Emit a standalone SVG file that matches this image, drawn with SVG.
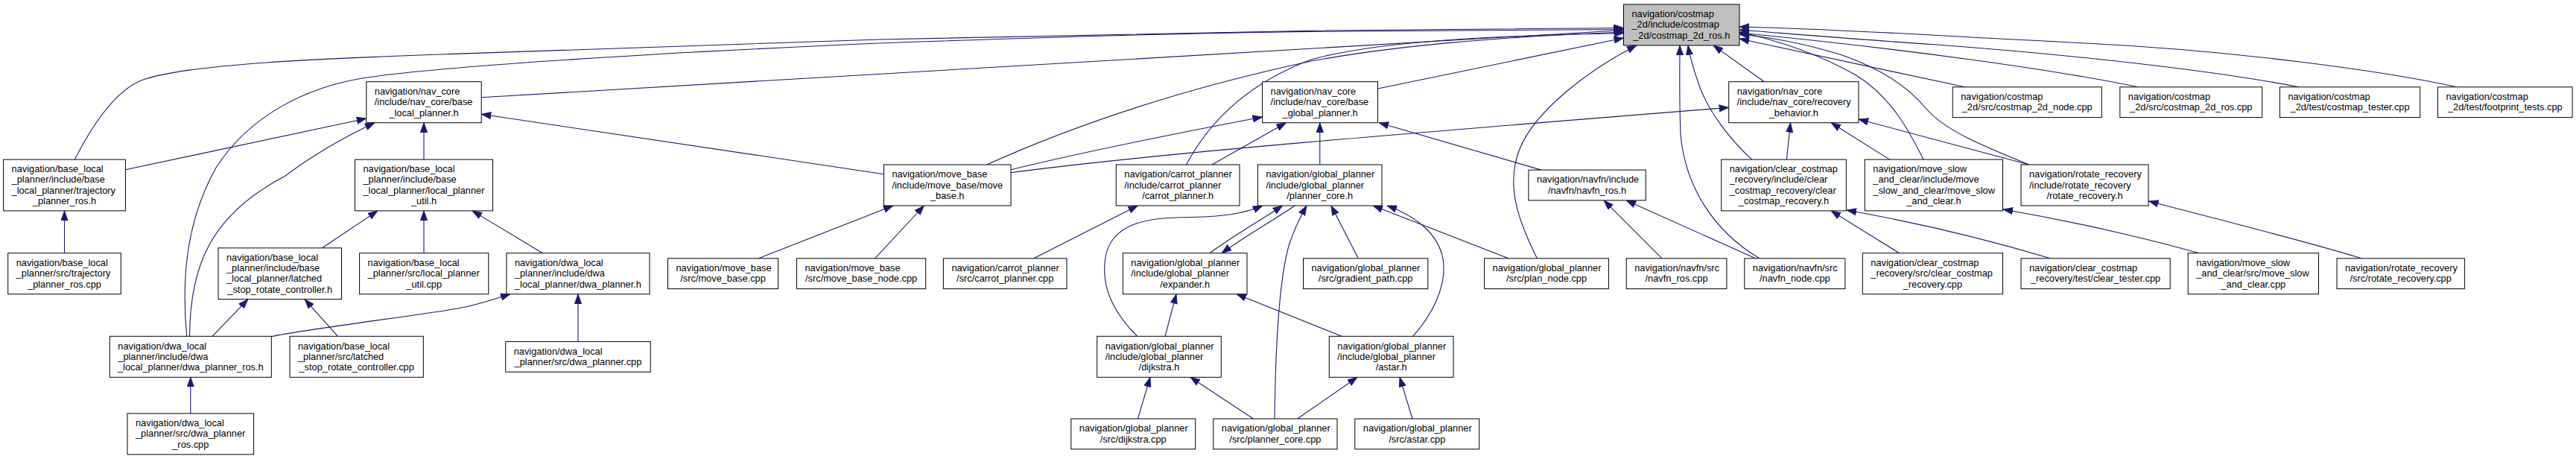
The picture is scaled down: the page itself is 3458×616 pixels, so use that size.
<svg xmlns="http://www.w3.org/2000/svg" width="3458" height="616" viewBox="0 0 3458 616">
<defs>
<style>
.n rect{fill:#fff;stroke:#000;stroke-width:1}
.root rect{fill:#bfbfbf}
text{font-family:"Liberation Sans",Arial,Helvetica,sans-serif;font-size:12.8px;fill:#000}
.m{text-anchor:middle}
#edges path{fill:none;stroke:#191970;stroke-width:1.1;marker-end:url(#ah)}
</style>
<marker id="ah" markerUnits="userSpaceOnUse" markerWidth="14" markerHeight="10" refX="13" refY="5" orient="auto" viewBox="0 0 14 10"><path d="M0,0.3 L13,5 L0,9.7 z" fill="#191970" stroke="#191970" stroke-width="0.8"/></marker>
</defs>
<rect width="3458" height="616" fill="#fff"/>
<g id="edges">
<path d="M100.3,214.1 C128,160 160,117 195,106 C260,86 420,79 600,72.7 C800,66 1000,58 1180,53 C1400,47 1600,43 1760,41.2 C1950,39 2100,38 2179.5,37.5"/>
<path d="M250.7,451.3 C244,380 248,300 290,225 C335,155 410,118 486,105 C600,88 900,70 1180,58 C1400,50 1600,44 1760,42.4 C1950,40.5 2100,40 2179.5,39.5"/>
<path d="M254.5,451.3 C255,360 280,290 383,236 C420,208 460,185 503,164.7"/>
<path d="M168.4,227.8 L491.8,159"/>
<path d="M86.5,339.7 L86.5,282.9"/>
<path d="M569,214.1 L569,164.7"/>
<path d="M569,339.7 L569,282.9"/>
<path d="M432.5,332.8 L507,282.9"/>
<path d="M285,451.3 L333,401.6"/>
<path d="M453.5,451.3 L409,401.6"/>
<path d="M255.8,554.9 L255.8,506.3"/>
<path d="M364.3,451.7 C420,440 560,424 620,413 C645,408 665,401 685,394.7"/>
<path d="M728.5,339.7 L634,282.9"/>
<path d="M776,458.4 L776,394.7"/>
<path d="M646.2,130.8 L2179.5,40.5"/>
<path d="M1186.4,233.7 L646.2,153.2"/>
<path d="M1357,227.8 C1450,205 1600,175 1694.6,157"/>
<path d="M1357,231.7 C1550,206 1900,178 2320.7,144.3"/>
<path d="M1018.2,346.8 L1199,276"/>
<path d="M1174.5,346.8 L1240.4,276"/>
<path d="M1387.7,346.8 L1527.4,276"/>
<path d="M1627,221 L1726.4,164.7"/>
<path d="M1324.6,221 C1420,178 1560,125 1760,82 C1870,62 2000,50 2179.5,43"/>
<path d="M1592.5,221 C1625,160 1680,110 1760,80 C1850,55 2000,48 2179.5,44.5"/>
<path d="M1771.8,221 L1771.8,164.7"/>
<path d="M1624,339.7 C1650,320 1690,297 1721.7,276"/>
<path d="M1738.3,276 C1710,295 1670,318 1640,339.7"/>
<path d="M1526.7,451.3 C1490,415 1478,380 1484,345 C1492,300 1540,292 1590,291.7 C1640,291 1670,287 1695,276"/>
<path d="M1564,451.3 L1579,394.7"/>
<path d="M1527.4,562 L1544,506.3"/>
<path d="M1682.4,562 L1598,506.3"/>
<path d="M1711,562 C1712,480 1716,380 1730,330 C1738,305 1746,290 1754,276"/>
<path d="M1741.7,562 L1822,506.3"/>
<path d="M1801,451.3 L1660,394.7"/>
<path d="M1896.7,451.3 C1920,425 1940,390 1938,355 C1935,315 1900,290 1862,276"/>
<path d="M1896,562 L1879,506.3"/>
<path d="M1823.3,346.8 L1787,276"/>
<path d="M2025,346.8 L1843,276"/>
<path d="M2063.4,346.8 C2040,300 2020,250 2040,200 C2060,150 2130,95 2197,60.9"/>
<path d="M1849.5,119 L2179.5,51"/>
<path d="M2069,228.1 L1851,164.7"/>
<path d="M2231,346.8 L2153,268.9"/>
<path d="M2356.7,346.8 L2183,268.9"/>
<path d="M2362,346.8 C2300,310 2262,250 2256,180 C2254,130 2255,90 2255,60.9"/>
<path d="M2351.7,214.1 C2320,185 2295,150 2283,120 C2275,98 2269,80 2266,60.9"/>
<path d="M2368.3,109.7 L2300,60.9"/>
<path d="M2398.3,214.1 L2403.5,164.7"/>
<path d="M2536.7,214.1 L2458,164.7"/>
<path d="M2723.7,221 L2495,160"/>
<path d="M2582,214.1 C2565,180 2540,130 2490,100 C2440,72 2390,55 2335,43"/>
<path d="M2723.7,221 C2660,195 2610,175 2585,145 C2560,115 2520,90 2470,73 C2420,58 2380,50 2335,46"/>
<path d="M2637.6,116.8 L2335,52"/>
<path d="M2870,116.8 C2750,92 2550,65 2335,44"/>
<path d="M3085.7,116.8 C2980,96 2800,75 2600,60 C2480,52 2400,45 2335,40"/>
<path d="M3298,116.8 C3200,95 3000,68 2800,58 C2600,48 2450,38 2335,36"/>
<path d="M2549.6,339.7 L2458,282.9"/>
<path d="M2752.5,346.8 C2680,325 2580,300 2479,282"/>
<path d="M2951.8,339.7 C2900,325 2800,300 2689,281"/>
<path d="M3169.9,346.8 C3100,325 2980,295 2884.5,270"/>
</g>
<g id="n0" class="n root"><rect x="2179.5" y="5.9" width="155.5" height="55"/><text x="2190.5" y="23.1">navigation/costmap</text><text x="2190.5" y="37.4">_2d/include/costmap</text><text class="m" x="2257.25" y="51.7">_2d/costmap_2d_ros.h</text></g>
<g id="n1" class="n"><rect x="491.8" y="109.7" width="154.4" height="55"/><text x="502.8" y="126.9">navigation/nav_core</text><text x="502.8" y="141.2">/include/nav_core/base</text><text class="m" x="569" y="155.5">_local_planner.h</text></g>
<g id="n2" class="n"><rect x="1694.6" y="109.7" width="154.9" height="55"/><text x="1705.6" y="126.9">navigation/nav_core</text><text x="1705.6" y="141.2">/include/nav_core/base</text><text class="m" x="1772.05" y="155.5">_global_planner.h</text></g>
<g id="n3" class="n"><rect x="2320.7" y="109.7" width="174.3" height="55"/><text x="2331.7" y="126.9">navigation/nav_core</text><text x="2331.7" y="141.2">/include/nav_core/recovery</text><text class="m" x="2407.85" y="155.5">_behavior.h</text></g>
<g id="n4" class="n"><rect x="2621.2" y="116.8" width="200.1" height="40.8"/><text x="2632.2" y="134.05">navigation/costmap</text><text class="m" x="2721.25" y="148.35">_2d/src/costmap_2d_node.cpp</text></g>
<g id="n5" class="n"><rect x="2845.8" y="116.8" width="190.9" height="40.8"/><text x="2856.8" y="134.05">navigation/costmap</text><text class="m" x="2941.25" y="148.35">_2d/src/costmap_2d_ros.cpp</text></g>
<g id="n6" class="n"><rect x="3060.4" y="116.8" width="188.3" height="40.8"/><text x="3071.4" y="134.05">navigation/costmap</text><text class="m" x="3154.55" y="148.35">_2d/test/costmap_tester.cpp</text></g>
<g id="n7" class="n"><rect x="3272.5" y="116.8" width="180.6" height="40.8"/><text x="3283.5" y="134.05">navigation/costmap</text><text class="m" x="3362.8" y="148.35">_2d/test/footprint_tests.cpp</text></g>
<g id="n8" class="n"><rect x="4.6" y="214.1" width="163.8" height="68.8"/><text x="15.6" y="231.05">navigation/base_local</text><text x="15.6" y="245.35">_planner/include/base</text><text x="15.6" y="259.65">_local_planner/trajectory</text><text class="m" x="86.5" y="273.95">_planner_ros.h</text></g>
<g id="n9" class="n"><rect x="476.5" y="214.1" width="185" height="68.8"/><text x="487.5" y="231.05">navigation/base_local</text><text x="487.5" y="245.35">_planner/include/base</text><text x="487.5" y="259.65">_local_planner/local_planner</text><text class="m" x="569" y="273.95">_util.h</text></g>
<g id="n10" class="n"><rect x="1186.4" y="221" width="170.6" height="55"/><text x="1197.4" y="238.2">navigation/move_base</text><text x="1197.4" y="252.5">/include/move_base/move</text><text class="m" x="1271.7" y="266.8">_base.h</text></g>
<g id="n11" class="n"><rect x="1498.3" y="221" width="165.7" height="55"/><text x="1509.3" y="238.2">navigation/carrot_planner</text><text x="1509.3" y="252.5">/include/carrot_planner</text><text class="m" x="1581.15" y="266.8">/carrot_planner.h</text></g>
<g id="n12" class="n"><rect x="1688.4" y="221" width="166.6" height="55"/><text x="1699.4" y="238.2">navigation/global_planner</text><text x="1699.4" y="252.5">/include/global_planner</text><text class="m" x="1771.7" y="266.8">/planner_core.h</text></g>
<g id="n13" class="n"><rect x="2051.9" y="228.1" width="157.3" height="40.8"/><text x="2062.9" y="245.35">navigation/navfn/include</text><text class="m" x="2130.55" y="259.65">/navfn/navfn_ros.h</text></g>
<g id="n14" class="n"><rect x="2310.7" y="214.1" width="167.6" height="68.8"/><text x="2321.7" y="231.05">navigation/clear_costmap</text><text x="2321.7" y="245.35">_recovery/include/clear</text><text x="2321.7" y="259.65">_costmap_recovery/clear</text><text class="m" x="2394.5" y="273.95">_costmap_recovery.h</text></g>
<g id="n15" class="n"><rect x="2503.3" y="214.1" width="185.2" height="68.8"/><text x="2514.3" y="231.05">navigation/move_slow</text><text x="2514.3" y="245.35">_and_clear/include/move</text><text x="2514.3" y="259.65">_slow_and_clear/move_slow</text><text class="m" x="2595.9" y="273.95">_and_clear.h</text></g>
<g id="n16" class="n"><rect x="2713" y="221" width="171" height="55"/><text x="2724" y="238.2">navigation/rotate_recovery</text><text x="2724" y="252.5">/include/rotate_recovery</text><text class="m" x="2798.5" y="266.8">/rotate_recovery.h</text></g>
<g id="n17" class="n"><rect x="10.7" y="339.7" width="151.6" height="55"/><text x="21.7" y="356.9">navigation/base_local</text><text x="21.7" y="371.2">_planner/src/trajectory</text><text class="m" x="86.5" y="385.5">_planner_ros.cpp</text></g>
<g id="n18" class="n"><rect x="293" y="332.8" width="165.5" height="68.8"/><text x="304" y="349.75">navigation/base_local</text><text x="304" y="364.05">_planner/include/base</text><text x="304" y="378.35">_local_planner/latched</text><text class="m" x="375.75" y="392.65">_stop_rotate_controller.h</text></g>
<g id="n19" class="n"><rect x="482.6" y="339.7" width="173.2" height="55"/><text x="493.6" y="356.9">navigation/base_local</text><text x="493.6" y="371.2">_planner/src/local_planner</text><text class="m" x="569.2" y="385.5">_util.cpp</text></g>
<g id="n20" class="n"><rect x="679.9" y="339.7" width="192.1" height="55"/><text x="690.9" y="356.9">navigation/dwa_local</text><text x="690.9" y="371.2">_planner/include/dwa</text><text class="m" x="775.95" y="385.5">_local_planner/dwa_planner.h</text></g>
<g id="n21" class="n"><rect x="896.5" y="346.8" width="148.1" height="40.8"/><text x="907.5" y="364.05">navigation/move_base</text><text class="m" x="970.55" y="378.35">/src/move_base.cpp</text></g>
<g id="n22" class="n"><rect x="1069.5" y="346.8" width="173.2" height="40.8"/><text x="1080.5" y="364.05">navigation/move_base</text><text class="m" x="1156.1" y="378.35">/src/move_base_node.cpp</text></g>
<g id="n23" class="n"><rect x="1266.4" y="346.8" width="165.6" height="40.8"/><text x="1277.4" y="364.05">navigation/carrot_planner</text><text class="m" x="1349.2" y="378.35">/src/carrot_planner.cpp</text></g>
<g id="n24" class="n"><rect x="1507.3" y="339.7" width="166.7" height="55"/><text x="1518.3" y="356.9">navigation/global_planner</text><text x="1518.3" y="371.2">/include/global_planner</text><text class="m" x="1590.65" y="385.5">/expander.h</text></g>
<g id="n25" class="n"><rect x="1749.5" y="346.8" width="167.3" height="40.8"/><text x="1760.5" y="364.05">navigation/global_planner</text><text class="m" x="1833.15" y="378.35">/src/gradient_path.cpp</text></g>
<g id="n26" class="n"><rect x="1992.6" y="346.8" width="166.8" height="40.8"/><text x="2003.6" y="364.05">navigation/global_planner</text><text class="m" x="2076" y="378.35">/src/plan_node.cpp</text></g>
<g id="n27" class="n"><rect x="2183.2" y="346.8" width="134.7" height="40.8"/><text x="2194.2" y="364.05">navigation/navfn/src</text><text class="m" x="2250.55" y="378.35">/navfn_ros.cpp</text></g>
<g id="n28" class="n"><rect x="2341.8" y="346.8" width="135.1" height="40.8"/><text x="2352.8" y="364.05">navigation/navfn/src</text><text class="m" x="2409.35" y="378.35">/navfn_node.cpp</text></g>
<g id="n29" class="n"><rect x="2500.3" y="339.7" width="188.2" height="55"/><text x="2511.3" y="356.9">navigation/clear_costmap</text><text x="2511.3" y="371.2">_recovery/src/clear_costmap</text><text class="m" x="2594.4" y="385.5">_recovery.cpp</text></g>
<g id="n30" class="n"><rect x="2713" y="346.8" width="200.2" height="40.8"/><text x="2724" y="364.05">navigation/clear_costmap</text><text class="m" x="2813.1" y="378.35">_recovery/test/clear_tester.cpp</text></g>
<g id="n31" class="n"><rect x="2937.2" y="339.7" width="175.3" height="55"/><text x="2948.2" y="356.9">navigation/move_slow</text><text x="2948.2" y="371.2">_and_clear/src/move_slow</text><text class="m" x="3024.85" y="385.5">_and_clear.cpp</text></g>
<g id="n32" class="n"><rect x="3137" y="346.8" width="171.4" height="40.8"/><text x="3148" y="364.05">navigation/rotate_recovery</text><text class="m" x="3222.7" y="378.35">/src/rotate_recovery.cpp</text></g>
<g id="n33" class="n"><rect x="147.3" y="451.3" width="217" height="55"/><text x="158.3" y="468.5">navigation/dwa_local</text><text x="158.3" y="482.8">_planner/include/dwa</text><text class="m" x="255.8" y="497.1">_local_planner/dwa_planner_ros.h</text></g>
<g id="n34" class="n"><rect x="389" y="451.3" width="179.3" height="55"/><text x="400" y="468.5">navigation/base_local</text><text x="400" y="482.8">_planner/src/latched</text><text class="m" x="478.65" y="497.1">_stop_rotate_controller.cpp</text></g>
<g id="n35" class="n"><rect x="678.7" y="458.4" width="194.5" height="40.8"/><text x="689.7" y="475.65">navigation/dwa_local</text><text class="m" x="775.95" y="489.95">_planner/src/dwa_planner.cpp</text></g>
<g id="n36" class="n"><rect x="1472.7" y="451.3" width="166.6" height="55"/><text x="1483.7" y="468.5">navigation/global_planner</text><text x="1483.7" y="482.8">/include/global_planner</text><text class="m" x="1556" y="497.1">/dijkstra.h</text></g>
<g id="n37" class="n"><rect x="1784.3" y="451.3" width="166.7" height="55"/><text x="1795.3" y="468.5">navigation/global_planner</text><text x="1795.3" y="482.8">/include/global_planner</text><text class="m" x="1867.65" y="497.1">/astar.h</text></g>
<g id="n38" class="n"><rect x="171" y="554.9" width="169.6" height="55"/><text x="182" y="572.1">navigation/dwa_local</text><text x="182" y="586.4">_planner/src/dwa_planner</text><text class="m" x="255.8" y="600.7">_ros.cpp</text></g>
<g id="n39" class="n"><rect x="1437.8" y="562" width="166.9" height="40.8"/><text x="1448.8" y="579.25">navigation/global_planner</text><text class="m" x="1521.25" y="593.55">/src/dijkstra.cpp</text></g>
<g id="n40" class="n"><rect x="1628.8" y="562" width="166.2" height="40.8"/><text x="1639.8" y="579.25">navigation/global_planner</text><text class="m" x="1711.9" y="593.55">/src/planner_core.cpp</text></g>
<g id="n41" class="n"><rect x="1818.8" y="562" width="166.9" height="40.8"/><text x="1829.8" y="579.25">navigation/global_planner</text><text class="m" x="1902.25" y="593.55">/src/astar.cpp</text></g>
</svg>
